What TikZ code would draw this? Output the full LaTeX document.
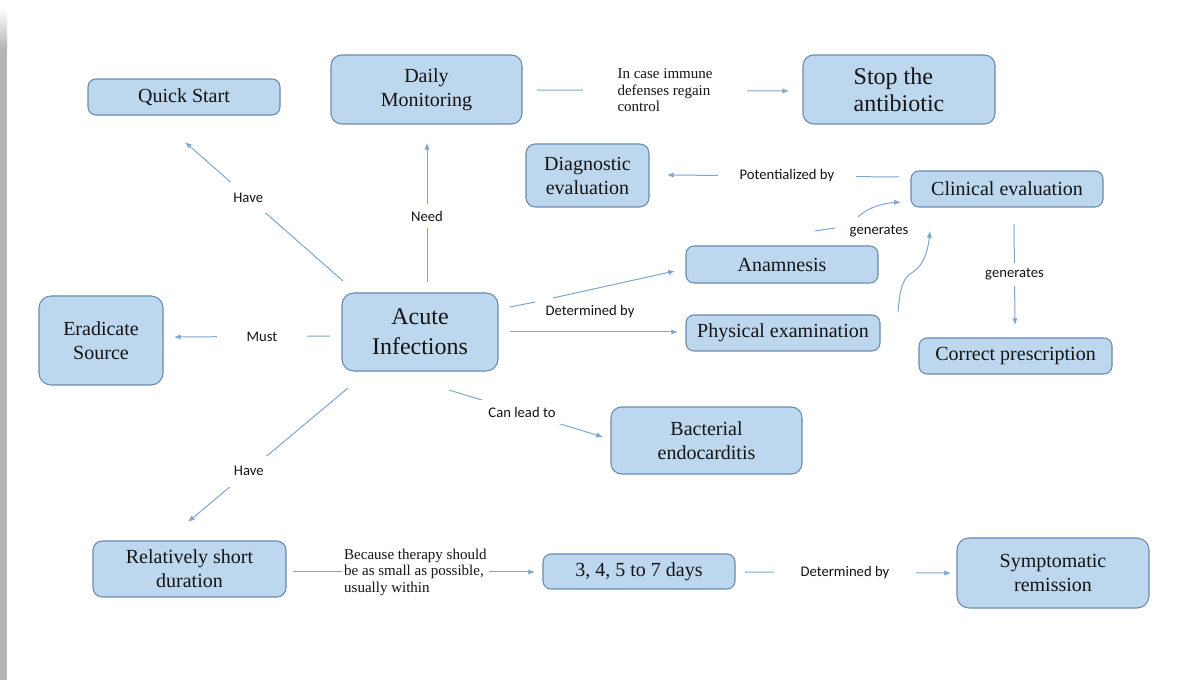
\documentclass[tikz,border=0pt]{standalone}
\usepackage{fontspec}
\setmainfont{Liberation Serif}
\newfontfamily\boxfont{Liberation Serif}
\newfontfamily\lblfont{Carlito}
\usetikzlibrary{arrows.meta}
\definecolor{boxfill}{HTML}{BDD7EE}
\definecolor{boxline}{HTML}{6A8AAE}
\definecolor{conncol}{HTML}{7EA6CF}
\definecolor{stripgray}{HTML}{B3B3B3}
\definecolor{txt}{HTML}{141414}
\begin{document}
\begin{tikzpicture}[x=0.75pt,y=-0.75pt,
  box/.style={draw=boxline, line width=0.8pt, fill=boxfill, rounded corners=6pt, inner sep=0pt, align=center, text=txt, font=\boxfont\fontsize{15}{18}\selectfont},
  big/.style={font=\boxfont\fontsize{18}{20.5}\selectfont},
  conn/.style={draw=conncol, line width=0.75pt},
  arr/.style={conn, -{Latex[length=5pt,width=4pt]}},
  lbl/.style={fill=white, text=txt, font=\lblfont\fontsize{11}{13}\selectfont, inner sep=3pt},
  slbl/.style={fill=white, text=txt, align=left, font=\boxfont\fontsize{11.25}{12.4}\selectfont, inner sep=2pt}
]
\useasboundingbox (0,0) rectangle (1197,680);
\fill[white] (0,0) rectangle (1197,680);
\shade[top color=white, bottom color=stripgray] (0,8) rectangle (7,50);
\fill[stripgray] (0,50) rectangle (7,680);

% boxes
\node[box, minimum width=144pt, minimum height=27pt] (quick) at (184,97) {Quick Start};
\node[box, rounded corners=8pt, minimum width=143.25pt, minimum height=51.75pt] (daily) at (426.5,89.5) {Daily\\Monitoring};
\node[box, big, align=left, rounded corners=8pt, minimum width=144pt, minimum height=51.75pt] (stop) at (899,89.5) {Stop the\\antibiotic};
\node[box, rounded corners=7pt, minimum width=92.25pt, minimum height=47.25pt] (diag) at (587.5,175.5) {Diagnostic\\evaluation};
\node[box, minimum width=144pt, minimum height=27pt] (clin) at (1007,189) {Clinical evaluation};
\node[box, minimum width=144pt, minimum height=27.75pt] (anam) at (782,264.5) {Anamnesis};
\node[box, minimum width=145.5pt, minimum height=27pt] (phys) at (783,333) {Physical examination};
\node[box, minimum width=144.75pt, minimum height=27pt] (corr) at (1015.5,356) {Correct prescription};
\node[box, rounded corners=9pt, minimum width=93pt, minimum height=66.75pt] (erad) at (101,340.5) {Eradicate\\Source};
\node[box, rounded corners=9pt, minimum width=117pt, minimum height=58.5pt, font=\boxfont\fontsize{18}{22.5}\selectfont] (acute) at (420,332) {Acute\\Infections};
\node[box, rounded corners=8pt, minimum width=143.25pt, minimum height=50.25pt] (bact) at (706.5,440.5) {Bacterial\\endocarditis};
\node[box, rounded corners=7pt, minimum width=144.75pt, minimum height=42pt] (rel) at (189.5,569) {Relatively short\\duration};
\node[box, minimum width=144pt, minimum height=26.25pt] (days) at (639,571.5) {3, 4, 5 to 7 days};
\node[box, rounded corners=9pt, minimum width=144pt, minimum height=52.5pt] (symp) at (1053,573) {Symptomatic\\remission};

% connector end points
\coordinate (h1s) at (343,281); \coordinate (h1e) at (185,142);
\coordinate (nds) at (427,282); \coordinate (nde) at (427,143);
\coordinate (ics) at (537,90);  \coordinate (ice) at (789,91);
\coordinate (pts) at (899,177); \coordinate (pte) at (667,175);
\coordinate (g1a) at (815,231); \coordinate (g1b) at (835,228);
\coordinate (g1c) at (858,217); \coordinate (g1d) at (901,202);
\coordinate (g2a) at (898,312); \coordinate (g2k) at (913,272); \coordinate (g2e) at (930,231);
\coordinate (g3s) at (1014,224); \coordinate (g3e) at (1015,325);
\coordinate (d1a) at (510,307); \coordinate (d1b) at (535,302);
\coordinate (d1c) at (553,298); \coordinate (d1d) at (675,271);
\coordinate (pxs) at (510,332); \coordinate (pxe) at (678,332);
\coordinate (mus) at (330,336); \coordinate (mue) at (174,337);
\coordinate (h2s) at (348,388); \coordinate (h2e) at (188,522);
\coordinate (cls) at (449,390); \coordinate (cle) at (603,437);
\coordinate (bts) at (293,572); \coordinate (bte) at (535,572);
\coordinate (dbs) at (745,572); \coordinate (dbe) at (951,573);

% connectors
\draw[arr] (h1s) -- node[lbl, pos=0.6, inner xsep=5pt, inner ysep=8pt] {Have} (h1e);
\draw[arr] (nds) -- node[lbl, pos=0.475, inner ysep=5pt] {Need} (nde);
\draw[arr] (ics) -- node[slbl, pos=0.508, inner xsep=26pt] {In case immune\\defenses regain\\control} (ice);
\draw[arr] (pts) -- node[lbl, pos=0.483, inner xsep=16pt] {Potentialized by} (pte);
\draw[conn] (g1a) -- (g1b);
\draw[arr] (g1c) .. controls (868,207) and (885,203) .. (g1d);
\node[lbl, inner sep=0pt] (gen1) at (879,231) {generates};
\draw[arr] (g2a) .. controls (900,290) and (902,278) .. (g2k) .. controls (924,265) and (928,250) .. (g2e);
\draw[arr] (g3s) -- node[lbl, pos=0.5, inner ysep=4pt] {generates} (g3e);
\draw[conn] (d1a) -- (d1b);
\draw[arr] (d1c) -- (d1d);
\node[lbl, inner sep=0pt] (det1) at (590,312) {Determined by};
\draw[arr] (pxs) -- (pxe);
\draw[arr] (mus) -- node[lbl, pos=0.436, inner xsep=22pt] {Must} (mue);
\draw[arr] (h2s) -- node[lbl, pos=0.62, inner xsep=5pt, inner ysep=8pt] {Have} (h2e);
\draw[arr] (cls) -- node[lbl, pos=0.474, inner xsep=6pt, inner ysep=5pt] {Can lead to} (cle);
\draw[arr] (bts) -- node[slbl, pos=0.506] {Because therapy should\\be as small as possible,\\usually within} (bte);
\draw[arr] (dbs) -- node[lbl, pos=0.485, inner xsep=20pt] {Determined by} (dbe);
\end{tikzpicture}
\end{document}
